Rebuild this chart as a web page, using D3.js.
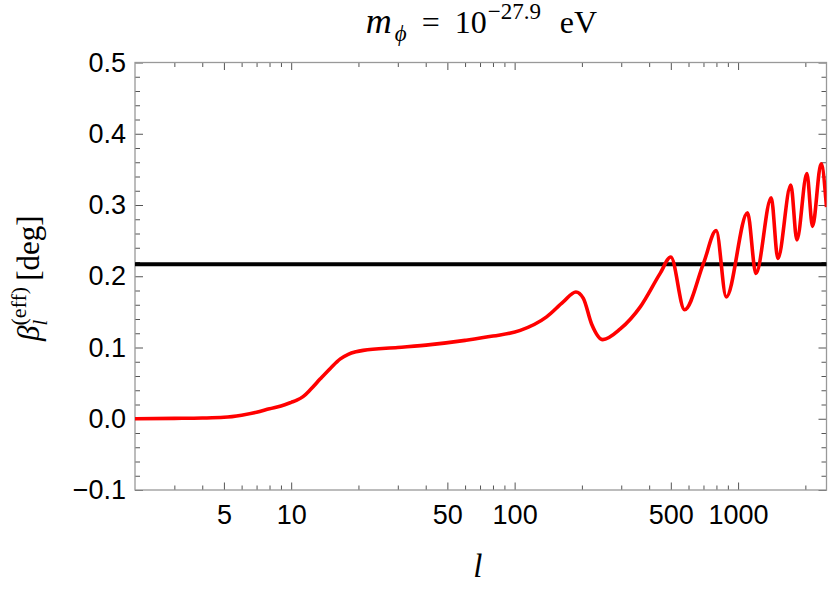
<!DOCTYPE html>
<html>
<head>
<meta charset="utf-8">
<script src="https://cdn.jsdelivr.net/npm/d3@7"></script>
<style>
  body { margin: 0; background: #fff; }
  .tick-label { font-family: "Liberation Sans", Arial, sans-serif; font-size: 27px; fill: #000; }
  .serif { font-family: "Liberation Serif", "DejaVu Serif", serif; fill: #000; }
</style>
</head>
<body>
<div id="chart"></div>
<script>
const WIDTH = 830,
  HEIGHT = 594,
  MARGIN = { top: 62.5, right: 3.5, bottom: 104, left: 135 };

// curve: multipole l and effective rotation angle
const ell = [2, 3, 4, 5, 6, 7, 8, 9, 10, 10.6, 11.3, 12.2, 13.5, 15, 16.6, 18, 19.5, 21, 30, 42, 60, 80,
  106, 139, 165, 188, 203, 221, 248, 297, 365, 448, 500, 576, 700, 798, 885,
  1102, 1202, 1407, 1507, 1722, 1833, 2032, 2153, 2352, 2487];
const beta = [0.000, 0.0005, 0.001, 0.002, 0.005, 0.009, 0.014, 0.018, 0.023, 0.026, 0.031, 0.041,
  0.056, 0.071, 0.084, 0.0905, 0.094, 0.096, 0.100, 0.104, 0.110, 0.116,
  0.124, 0.143, 0.164, 0.178, 0.169, 0.133, 0.111, 0.126, 0.157, 0.204, 0.227, 0.153,
  0.218, 0.264, 0.171, 0.289, 0.204, 0.310, 0.225, 0.328, 0.251, 0.344, 0.270, 0.358, 0.297];
const threshold = 0.217;

const xDomain = [2, 2487];
const yDomain = [-0.1, 0.5];
const xLabelled = [5, 10, 50, 100, 500, 1000];
const xMinor = [3, 4, 6, 7, 8, 9, 20, 30, 40, 60, 70, 80, 90, 200, 300, 400, 600, 700, 800, 900, 2000];
const yLabelled = [-0.1, 0, 0.1, 0.2, 0.3, 0.4, 0.5];
const yMinor = d3.range(-0.08, 0.5, 0.02).filter(function(v) {
  return Math.abs(Math.round(v * 10) - v * 10) > 0.05;
});

const plotW = WIDTH - MARGIN.left - MARGIN.right,
  plotH = HEIGHT - MARGIN.top - MARGIN.bottom;

var svg = d3
  .select("#chart")
  .append("svg")
  .attr("width", WIDTH)
  .attr("height", HEIGHT);

var x = d3.scaleLog().domain(xDomain).range([0, plotW]);
var y = d3.scaleLinear().domain(yDomain).range([plotH, 0]);

var g = svg
  .append("g")
  .attr("transform", "translate(" + MARGIN.left + "," + MARGIN.top + ")");

function styleAxis(sel) {
  sel.select(".domain").remove();
  sel.selectAll(".tick line").attr("stroke", "#555").attr("stroke-width", 1);
  sel.selectAll("text").attr("class", "tick-label").attr("fill", null);
}

function fmtY(d) {
  return d < 0 ? "\u2212" + d3.format(".1f")(-d) : d3.format(".1f")(d);
}

// bottom
g.append("g")
  .attr("transform", "translate(0," + plotH + ")")
  .call(d3.axisBottom(x).tickValues(xLabelled).tickFormat(d3.format("d")).tickSize(-7.5).tickPadding(15))
  .call(styleAxis);
g.append("g")
  .attr("transform", "translate(0," + plotH + ")")
  .call(d3.axisBottom(x).tickValues(xMinor).tickFormat("").tickSize(-4.5))
  .call(styleAxis);
// top
g.append("g")
  .call(d3.axisTop(x).tickValues(xLabelled).tickFormat("").tickSize(-7.5))
  .call(styleAxis);
g.append("g")
  .call(d3.axisTop(x).tickValues(xMinor).tickFormat("").tickSize(-4.5))
  .call(styleAxis);
// left
g.append("g")
  .call(d3.axisLeft(y).tickValues(yLabelled).tickFormat(fmtY).tickSize(-8).tickPadding(9))
  .call(styleAxis);
g.append("g")
  .call(d3.axisLeft(y).tickValues(yMinor).tickFormat("").tickSize(-5))
  .call(styleAxis);
// right
g.append("g")
  .attr("transform", "translate(" + plotW + ",0)")
  .call(d3.axisRight(y).tickValues(yLabelled).tickFormat("").tickSize(-8))
  .call(styleAxis);
g.append("g")
  .attr("transform", "translate(" + plotW + ",0)")
  .call(d3.axisRight(y).tickValues(yMinor).tickFormat("").tickSize(-5))
  .call(styleAxis);

// frame
g.append("rect")
  .attr("width", plotW)
  .attr("height", plotH)
  .attr("fill", "none")
  .attr("stroke", "#999")
  .attr("stroke-width", 1.3);

g.append("clipPath")
  .attr("id", "plot-clip")
  .append("rect")
  .attr("width", plotW)
  .attr("height", plotH);

// threshold line
g.append("line")
  .attr("x1", 0)
  .attr("x2", plotW)
  .attr("y1", y(threshold))
  .attr("y2", y(threshold))
  .attr("stroke", "#000")
  .attr("stroke-width", 4);

var line = d3
  .line()
  .x(function(d) { return x(d[0]); })
  .y(function(d) { return y(d[1]); })
  .curve(d3.curveMonotoneX);

g.append("path")
  .datum(d3.zip(ell, beta))
  .attr("clip-path", "url(#plot-clip)")
  .attr("d", line)
  .attr("fill", "none")
  .attr("stroke", "#ff0000")
  .attr("stroke-width", 3.6)
  .attr("stroke-linejoin", "round");

// title: m_phi = 10^-27.9 eV, pieces placed from the plot centre
var cx = MARGIN.left + plotW / 2;
var title = svg
  .append("text")
  .attr("class", "serif")
  .attr("y", 33)
  .style("font-size", "32px");
title.append("tspan").attr("x", cx - 115).style("font-style", "italic").style("font-size", "36px").text("m");
title.append("tspan").attr("x", cx - 86).attr("dy", 8).style("font-style", "italic").style("font-size", "23px").text("\u03d5");
title.append("tspan").attr("x", cx - 59).attr("dy", -8).text("=");
title.append("tspan").attr("x", cx - 26).text("10");
title.append("tspan").attr("x", cx + 7).attr("dy", -14).style("font-size", "23px").text("\u221227.9");
title.append("tspan").attr("x", cx + 79).attr("dy", 14).text("eV");

// x label
svg.append("text")
  .attr("class", "serif")
  .attr("x", cx - 3)
  .attr("y", 577)
  .attr("text-anchor", "middle")
  .style("font-size", "33px")
  .style("font-style", "italic")
  .text("l");

// y label: beta_l^(eff) [deg]
var ylab = svg
  .append("text")
  .attr("class", "serif")
  .attr("transform", "translate(39," + (MARGIN.top + plotH / 2 + 2) + ") rotate(-90)")
  .attr("text-anchor", "middle")
  .style("font-size", "31px");
ylab.append("tspan").style("font-style", "italic").text("\u03b2");
ylab.append("tspan").style("font-style", "italic").style("font-size", "22px").attr("dy", 8).text("l");
ylab.append("tspan").style("font-size", "22px").attr("dx", -6).attr("dy", -21).text("(eff)");
ylab.append("tspan").attr("dx", 6).attr("dy", 13).text("[deg]");
</script>
</body>
</html>
